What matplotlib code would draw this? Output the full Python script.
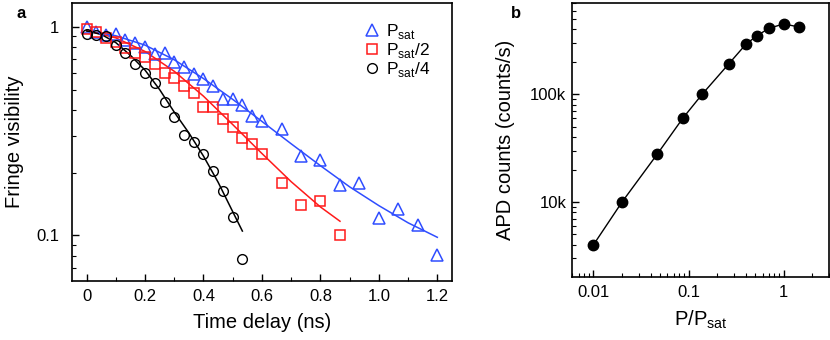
import numpy as np
import matplotlib
matplotlib.use("Agg")
import matplotlib.pyplot as plt
from matplotlib.ticker import FixedLocator, LogLocator, NullFormatter, MultipleLocator

plt.rcParams['font.family'] = ['Liberation Sans', 'DejaVu Sans']
plt.rcParams['mathtext.fontset'] = 'custom'
plt.rcParams['mathtext.rm'] = 'Liberation Sans'

# panel a: fringe visibility vs time delay
t_sat = [0, 0.033, 0.067, 0.1, 0.133, 0.167, 0.2, 0.233, 0.267, 0.3, 0.333, 0.367,
         0.4, 0.433, 0.467, 0.5, 0.533, 0.567, 0.6, 0.667, 0.733, 0.8, 0.867, 0.933,
         1.0, 1.067, 1.133, 1.2]
v_sat = [1.0, 0.946, 0.912, 0.92, 0.864, 0.832, 0.80, 0.74, 0.745, 0.68, 0.64, 0.593,
         0.56, 0.52, 0.449, 0.449, 0.42, 0.373, 0.352, 0.322, 0.24, 0.23, 0.174, 0.179,
         0.121, 0.134, 0.112, 0.081]

t_half = [0, 0.033, 0.067, 0.1, 0.133, 0.167, 0.2, 0.233, 0.267, 0.3, 0.333, 0.367,
          0.4, 0.433, 0.467, 0.5, 0.533, 0.567, 0.6, 0.667, 0.733, 0.8, 0.867]
v_half = [0.98, 0.946, 0.88, 0.848, 0.794, 0.75, 0.713, 0.667, 0.598, 0.57, 0.52, 0.48,
          0.411, 0.411, 0.36, 0.332, 0.292, 0.273, 0.247, 0.179, 0.140, 0.147, 0.10]

t_quarter = [0, 0.033, 0.067, 0.1, 0.133, 0.167, 0.2, 0.233, 0.267, 0.3, 0.333, 0.367,
             0.4, 0.433, 0.467, 0.5, 0.533]
v_quarter = [0.92, 0.91, 0.90, 0.82, 0.745, 0.667, 0.60, 0.54, 0.435, 0.37, 0.303, 0.28,
             0.245, 0.204, 0.163, 0.122, 0.077]

# fit curves
fit_t_sat = [0, 0.1, 0.2, 0.3, 0.4, 0.5, 0.6, 0.7, 0.8, 0.9, 1.0, 1.1, 1.2]
fit_v_sat = [0.959, 0.906, 0.817, 0.695, 0.565, 0.449, 0.352, 0.275, 0.216, 0.171, 0.139, 0.115, 0.098]
fit_t_half = [0, 0.1, 0.2, 0.3, 0.4, 0.5, 0.6, 0.7, 0.8, 0.867]
fit_v_half = [0.959, 0.885, 0.762, 0.612, 0.465, 0.340, 0.247, 0.181, 0.137, 0.117]
fit_t_quarter = [0, 0.05, 0.1, 0.15, 0.2, 0.25, 0.3, 0.35, 0.4, 0.45, 0.5, 0.533]
fit_v_quarter = [0.955, 0.92, 0.84, 0.73, 0.62, 0.50, 0.39, 0.31, 0.24, 0.18, 0.13, 0.105]

# panel b: APD counts vs power
p_ratio = [0.01, 0.02, 0.047, 0.087, 0.139, 0.264, 0.40, 0.52, 0.70, 1.0, 1.45]
apd_counts = [4000, 10000, 27900, 59900, 100000, 191000, 291000, 348000, 410000, 450000, 422000]

BLUE = '#2f4dff'
RED = '#ff1a1a'

fig = plt.figure(figsize=(8.3, 3.4), dpi=100)
ax = fig.add_axes([0.0867, 0.1735, 0.4578, 0.8176])
axb = fig.add_axes([0.6888, 0.1862, 0.3100, 0.8041])

for a in (ax, axb):
    for s in a.spines.values():
        s.set_linewidth(1.2)
    a.tick_params(which='both', direction='in', top=False, right=False, labelsize=12)
    a.tick_params(which='major', length=5, width=1)
    a.tick_params(which='minor', length=3, width=0.8)

ax.plot(fit_t_sat, fit_v_sat, color=BLUE, lw=1.1)
ax.plot(fit_t_half, fit_v_half, color=RED, lw=1.1)
ax.plot(fit_t_quarter, fit_v_quarter, color='black', lw=1.1)
ax.plot(t_sat, v_sat, ls='none', marker='^', ms=8, mfc='none', mec=BLUE, mew=1.1,
        label=r'P$_{\mathrm{sat}}$')
ax.plot(t_half, v_half, ls='none', marker='s', ms=6.5, mfc='none', mec=RED, mew=1.1,
        label=r'P$_{\mathrm{sat}}$/2')
ax.plot(t_quarter, v_quarter, ls='none', marker='o', ms=7, mfc='none', mec='black', mew=1.0,
        label=r'P$_{\mathrm{sat}}$/4')

ax.set_yscale('log')
ax.set_xlim(-0.05, 1.25)
ax.set_ylim(0.0605, 1.3)
ax.set_xticks([0, 0.2, 0.4, 0.6, 0.8, 1.0, 1.2])
ax.set_xticklabels(['0', '0.2', '0.4', '0.6', '0.8', '1.0', '1.2'])
ax.xaxis.set_minor_locator(MultipleLocator(0.1))
ax.yaxis.set_major_locator(FixedLocator([0.1, 1]))
ax.yaxis.set_minor_locator(LogLocator(base=10, subs=np.arange(2, 10)))
ax.yaxis.set_minor_formatter(NullFormatter())
ax.set_yticklabels(['0.1', '1'])
ax.tick_params(axis='y', pad=9)
ax.tick_params(axis='x', pad=6)
ax.set_xlabel('Time delay (ns)', fontsize=14.5, labelpad=6)
ax.set_ylabel('Fringe visibility', fontsize=14.5, labelpad=9)

leg = ax.legend(loc='upper left', bbox_to_anchor=(0.766, 0.93), frameon=False, fontsize=12.5,
                handlelength=1.0, handletextpad=0.35, labelspacing=0.0, borderpad=0,
                borderaxespad=0)

fig.text(0.025, 0.96, 'a', fontsize=12, fontweight='bold', ha='center', va='center')

axb.plot(p_ratio, apd_counts, color='black', lw=1.0, marker='o', ms=7.5, mfc='black', mec='black')
axb.set_xscale('log')
axb.set_yscale('log')
axb.set_xlim(0.0059, 3.0)
axb.set_ylim(2020, 700000)
axb.xaxis.set_major_locator(FixedLocator([0.01, 0.1, 1]))
axb.set_xticklabels(['0.01', '0.1', '1'])
axb.xaxis.set_minor_locator(LogLocator(base=10, subs=np.arange(2, 10)))
axb.xaxis.set_minor_formatter(NullFormatter())
axb.yaxis.set_major_locator(FixedLocator([1e4, 1e5]))
axb.set_yticklabels(['10k', '100k'])
axb.yaxis.set_minor_locator(LogLocator(base=10, subs=np.arange(2, 10)))
axb.yaxis.set_minor_formatter(NullFormatter())
axb.tick_params(axis='y', pad=4)
axb.tick_params(axis='x', pad=6)
axb.set_xlabel(r'P/P$_{\mathrm{sat}}$', fontsize=14.5, labelpad=6)
axb.set_ylabel('APD counts (counts/s)', fontsize=14.5, labelpad=11)

fig.text(0.622, 0.96, 'b', fontsize=12, fontweight='bold', ha='center', va='center')

fig.savefig('out.png', dpi=100)
